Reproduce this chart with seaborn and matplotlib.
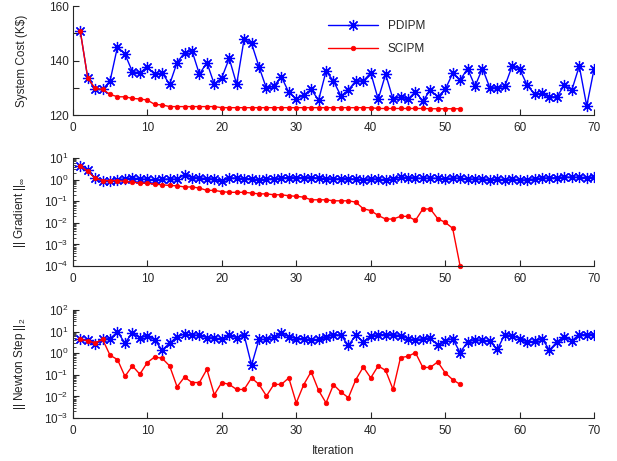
import numpy as np
import matplotlib
matplotlib.use("Agg")
import matplotlib.pyplot as plt
from matplotlib.ticker import LogLocator, NullFormatter
import seaborn as sns

# values
iter_pd = list(range(1, 71))
iter_sc = list(range(1, 53))

cost_pd = [150.9, 133.7, 129.4, 129.4, 132.5, 145.1, 142.4, 135.9, 135.5, 137.7,
           134.9, 135.5, 131.3, 139.3, 142.9, 143.6, 135.0, 139.3, 131.3, 133.7,
           140.8, 131.3, 147.9, 146.3, 137.7, 129.8, 130.6, 134.1, 128.3, 125.9,
           127.3, 129.4, 125.5, 136.1, 132.5, 127.0, 129.2, 132.6, 132.5, 135.5,
           125.8, 135.0, 125.8, 126.7, 125.8, 128.6, 125.1, 129.2, 126.7, 129.4,
           135.3, 132.8, 137.1, 130.6, 137.1, 130.0, 130.0, 130.6, 138.1, 136.9,
           131.0, 127.6, 128.0, 126.7, 126.7, 131.0, 129.2, 138.0, 123.3, 137.1]
cost_sc = [150.9, 133.7, 129.8, 129.4, 127.6, 126.7, 126.7, 126.1, 125.9, 125.5,
           123.9, 123.7, 123.1, 123.1, 123.1, 123.1, 123.1, 123.1, 123.1, 122.7,
           122.7, 122.7, 122.7, 122.7, 122.7, 122.7, 122.7, 122.7, 122.7, 122.7,
           122.7, 122.7, 122.7, 122.7, 122.7, 122.7, 122.7, 122.7, 122.7, 122.7,
           122.4, 122.4, 122.4, 122.4, 122.4, 122.4, 122.4, 122.3, 122.3, 122.3,
           122.3, 122.3]

grad_pd = [4.4, 2.7, 1.2, 0.83, 0.91, 1.0, 1.1, 1.2, 1.07, 1.05,
           0.95, 1.05, 1.07, 1.05, 1.7, 1.26, 1.2, 1.12, 1.07, 0.83,
           1.2, 1.2, 1.12, 1.12, 0.98, 1.07, 1.12, 1.2, 1.26, 1.26,
           1.26, 1.26, 1.2, 1.12, 1.07, 1.12, 1.12, 1.07, 1.0, 1.12,
           1.05, 1.0, 1.07, 1.3, 1.26, 1.2, 1.15, 1.2, 1.15, 1.1,
           1.2, 1.15, 1.1, 1.05, 1.1, 1.0, 1.05, 1.0, 1.1, 0.95,
           1.0, 1.1, 1.2, 1.2, 1.25, 1.35, 1.3, 1.3, 1.25, 1.35]
grad_sc = [4.4, 2.4, 1.2, 0.91, 0.91, 0.91, 0.83, 0.78, 0.69, 0.69,
           0.62, 0.58, 0.54, 0.52, 0.46, 0.46, 0.41, 0.32, 0.32, 0.28,
           0.26, 0.26, 0.26, 0.24, 0.22, 0.22, 0.20, 0.20, 0.18, 0.17,
           0.155, 0.117, 0.117, 0.117, 0.105, 0.105, 0.105, 0.091, 0.045, 0.037,
           0.022, 0.015, 0.015, 0.020, 0.020, 0.013, 0.044, 0.044, 0.0155, 0.0105,
           0.0056, 1e-4]

step_pd = [4.4, 4.1, 2.6, 4.4, 4.8, 9.8, 3.0, 8.9, 5.2, 6.5,
           4.1, 1.4, 3.0, 5.8, 7.8, 6.9, 6.9, 5.2, 5.2, 4.4,
           6.9, 5.2, 6.9, 0.28, 4.4, 4.4, 5.8, 8.3, 5.8, 4.8,
           4.8, 4.1, 4.4, 5.4, 7.4, 6.9, 2.3, 6.9, 3.4, 6.2,
           7.4, 7.4, 7.4, 6.5, 4.8, 4.1, 4.8, 5.2, 2.3, 3.8,
           4.8, 1.07, 3.4, 4.1, 4.1, 3.6, 1.5, 7.4, 6.5, 4.8,
           3.2, 3.6, 4.8, 1.4, 3.4, 5.8, 3.8, 7.4, 7.4, 7.4]
step_sc = [4.4, 3.8, 3.0, 4.4, 0.81, 0.51, 0.085, 0.26, 0.107, 0.37,
           0.68, 0.58, 0.26, 0.028, 0.079, 0.044, 0.044, 0.18, 0.012, 0.044,
           0.036, 0.021, 0.021, 0.072, 0.036, 0.0105, 0.036, 0.036, 0.072, 0.005,
           0.035, 0.14, 0.019, 0.005, 0.035, 0.016, 0.0087, 0.060, 0.23, 0.072,
           0.26, 0.16, 0.021, 0.63, 0.72, 1.07, 0.22, 0.22, 0.40, 0.123,
           0.060, 0.036]

sns.set_style("ticks", {"xtick.direction": "in", "ytick.direction": "in"})
plt.rcParams["font.family"] = ["Liberation Sans", "DejaVu Sans"]
plt.rcParams["mathtext.fontset"] = "custom"
plt.rcParams["mathtext.rm"] = "Liberation Sans"
plt.rcParams["mathtext.it"] = "Liberation Sans"
plt.rcParams["font.size"] = 8.5

fig = plt.figure(figsize=(6.17, 4.61), dpi=100)
ax1 = fig.add_axes([0.118, 0.7505, 0.845, 0.236])
ax2 = fig.add_axes([0.118, 0.423, 0.845, 0.234])
ax3 = fig.add_axes([0.118, 0.0933, 0.845, 0.234])

star = (8, 2, 0)
pd_kw = dict(color="blue", marker=star, markersize=8, markeredgecolor="blue",
             markeredgewidth=0.9, linewidth=1)
sc_kw = dict(color="red", marker="o", markersize=3.3, markeredgecolor="red",
             markeredgewidth=0.5, linewidth=1)

sns.lineplot(x=iter_pd, y=cost_pd, ax=ax1, label="PDIPM", **pd_kw)
sns.lineplot(x=iter_sc, y=cost_sc, ax=ax1, label="SCIPM", **sc_kw)
sns.lineplot(x=iter_pd, y=grad_pd, ax=ax2, **pd_kw)
sns.lineplot(x=iter_sc, y=grad_sc, ax=ax2, clip_on=False, **sc_kw)
sns.lineplot(x=iter_pd, y=step_pd, ax=ax3, **pd_kw)
sns.lineplot(x=iter_sc, y=step_sc, ax=ax3, **sc_kw)

ax1.set_ylim(120, 160)
ax1.set_yticks([120, 130, 140, 150, 160])
ax1.set_yticklabels(["120", "", "140", "", "160"])
ax1.set_ylabel("System Cost (K$)")

ax2.set_yscale("log")
ax2.set_ylim(1e-4, 1e1)
ax2.set_ylabel(r"|| Gradient ||$_\infty$")

ax3.set_yscale("log")
ax3.set_ylim(1e-3, 1e2)
ax3.set_ylabel(r"|| Newton Step ||$_2$")
ax3.set_xlabel("Iteration", labelpad=6)

for ax in (ax2, ax3):
    ax.yaxis.set_major_locator(LogLocator(base=10, numticks=12))
    ax.yaxis.set_minor_locator(LogLocator(base=10, subs=np.arange(2, 10), numticks=12))
    ax.yaxis.set_minor_formatter(NullFormatter())

for ax in (ax1, ax2, ax3):
    ax.set_xlim(0, 70)
    ax.set_xticks(range(0, 71, 10))
    sns.despine(ax=ax)
    ax.tick_params(which="major", length=4, width=0.8, labelsize=8.5)
    ax.tick_params(axis="x", pad=5)
    ax.tick_params(axis="y", pad=3)
    ax.tick_params(which="minor", left=True, length=2, width=0.6)
    ax.yaxis.set_label_coords(-0.086, 0.5)
    for s in ax.spines.values():
        s.set_linewidth(0.8)

leg = ax1.legend(loc="upper left", bbox_to_anchor=(0.47, 0.97), frameon=False,
                 handlelength=4.2, fontsize=8.5, labelspacing=0.95)

fig.savefig("out.png", dpi=100)
